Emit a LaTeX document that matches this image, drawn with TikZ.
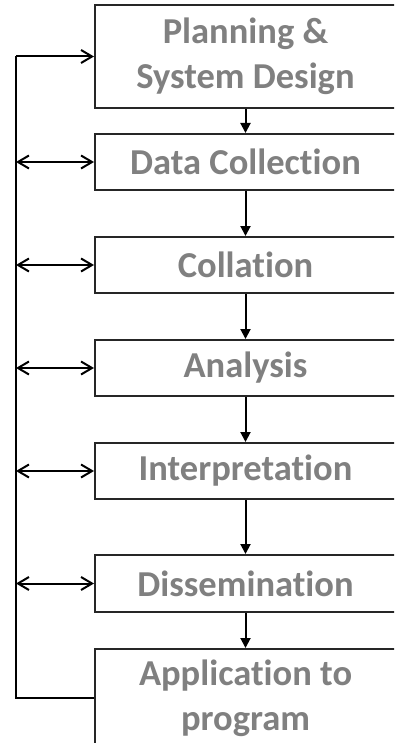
\documentclass[tikz,border=0pt]{standalone}
\usepackage{fontspec}
\setmainfont{Carlito}[Ligatures=NoCommon]
\usetikzlibrary{arrows.meta}
\definecolor{txtgray}{HTML}{808080}
\definecolor{boxline}{HTML}{262626}
\tikzset{
  stage/.style={draw=boxline, line width=2pt, rectangle, minimum width=301pt,
    text=txtgray, font=\fontsize{36.5}{45}\selectfont\bfseries, align=center, inner sep=0pt},
  flow/.style={line width=2pt, -{Triangle[length=10pt,width=10pt]}},
  fb/.style={line width=2pt, {Straight Barb[length=11pt,width=13pt]}-{Straight Barb[length=11pt,width=13pt]}},
  fbone/.style={line width=2pt, -{Straight Barb[length=11pt,width=13pt]}},
  loopline/.style={line width=2pt}
}
\begin{document}
\begin{tikzpicture}[x=1pt,y=-1pt]
\useasboundingbox (0,0) rectangle (394,743);
\clip (0,0) rectangle (394,743);
\fill[white] (0,0) rectangle (394,743);
\node[stage, minimum height=103pt] (p) at (245.5,56.5) {Planning \&\\System Design};
\node[stage, minimum height=56pt] (d) at (245.5,162) {Data Collection};
\node[stage, minimum height=56pt] (c) at (245.5,265) {Collation};
\node[stage, minimum height=56pt] (a) at (245.5,368) {Analysis};
\node[stage, minimum height=56pt] (i) at (245.5,471) {Interpretation};
\node[stage, minimum height=57pt] (s) at (245.5,583.5) {Dissemination};
\node[stage, minimum height=98pt] (ap) at (245.5,698) {Application to\\program};
\draw[flow] (p) -- (d);
\draw[flow] (d) -- (c);
\draw[flow] (c) -- (a);
\draw[flow] (a) -- (i);
\draw[flow] (i) -- (s);
\draw[flow] (s) -- (ap);
\coordinate (top) at (16,56.5);
\draw[loopline] (ap.west) -| (top);
\draw[fbone] (top) -- (p.west);
\foreach \n in {d,c,a,i,s}{
  \draw[fb] (top |- \n.west) -- (\n.west);
}
\end{tikzpicture}
\end{document}
